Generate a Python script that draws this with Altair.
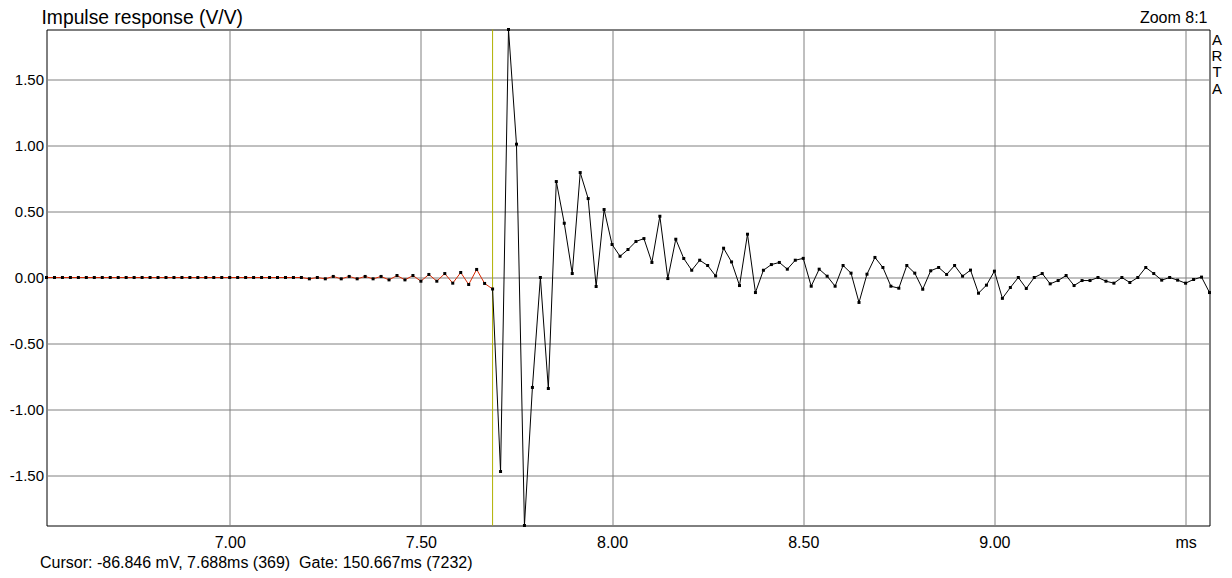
import altair as alt
import pandas as pd

# ---- data (48 kHz samples, value in V/V) ----
start_sample = 313
sample_rate_khz = 48.0
cursor_sample = 369

values_lead = [
    0.0, 0.0, 0.0, 0.0, 0.0, 0.0, 0.0, 0.0, 0.0, 0.0,
    0.0, 0.0, 0.0, 0.0, 0.0, 0.0, 0.0, 0.0, 0.0, 0.0,
    0.0, 0.0, 0.0, 0.0, 0.0, 0.0, 0.0, 0.0, 0.0, 0.0,
    0.0, 0.0, 0.0,
]
values_pre = [
    -0.010, 0.0, -0.010, 0.008, -0.010, 0.008, -0.010, 0.008, -0.010, 0.008,
    -0.018, 0.015, -0.018, 0.015, -0.028, 0.023, -0.028, 0.030, -0.043, 0.038,
    -0.053, 0.061, -0.045, -0.087,
]
values_main = [
    -1.470, 1.879, 1.010, -1.879, -0.833, 0.0, -0.841, 0.727, 0.411, 0.030,
    0.795, 0.598, -0.068, 0.515, 0.250, 0.161, 0.212, 0.273, 0.295, 0.114,
    0.464, -0.008, 0.290, 0.144, 0.055, 0.131, 0.091, 0.012, 0.222, 0.118,
    -0.061, 0.328, -0.114, 0.055, 0.098, 0.114, 0.063, 0.131, 0.145, -0.066,
    0.063, 0.010, -0.066, 0.091, 0.033, -0.189, 0.025, 0.152, 0.076, -0.066,
    -0.081, 0.091, 0.033, -0.089, 0.051, 0.076, 0.023, 0.091, 0.010, 0.056,
    -0.119, -0.058, 0.048, -0.158, -0.076, 0.0, -0.083, 0.0, 0.030, -0.048,
    -0.023, 0.015, -0.061, -0.023, -0.023, 0.0, -0.028, -0.043, 0.0, -0.038,
    0.0, 0.076, 0.030, -0.020, 0.0, -0.020, -0.043, -0.015, 0.003, -0.114,
]

x_tick_values = [7.0, 7.5, 8.0, 8.5, 9.0, 9.5]
y_tick_values = [-1.5, -1.0, -0.5, 0.0, 0.5, 1.0, 1.5]
y_limit = 1.879

title_text = "Impulse response (V/V)"
zoom_text = "Zoom 8:1"
brand_letters = ["A", "R", "T", "A"]
status_text = "Cursor: -86.846 mV, 7.688ms (369) \u00a0Gate: 150.667ms (7232)"

FONT = "Liberation Sans"

values = values_lead + values_pre + values_main
samples = list(range(start_sample, start_sample + len(values)))
df = pd.DataFrame({
    "sample": samples,
    "t": [s / sample_rate_khz for s in samples],
    "v": values,
})
end_sample = samples[-1]

x_scale = alt.Scale(domain=[start_sample / sample_rate_khz, end_sample / sample_rate_khz],
                    nice=False, zero=False)
y_scale = alt.Scale(domain=[-y_limit, y_limit], nice=False, zero=False)

x_axis = alt.Axis(
    values=x_tick_values,
    labelExpr="datum.value > 9.4 ? 'ms' : format(datum.value, '.2f')",
    ticks=False, domain=False, grid=True,
    gridColor="#808080", gridOpacity=1, gridWidth=1,
    labelFont=FONT, labelFontSize=16, labelColor="#000000",
    labelPadding=9, labelFlush=False, labelOverlap=False, title=None,
)
y_axis = alt.Axis(
    values=y_tick_values,
    labelExpr="(datum.value < 0 ? '-' : '') + format(abs(datum.value), '.2f')",
    ticks=False, domain=False, grid=True,
    gridColor="#808080", gridOpacity=1, gridWidth=1,
    labelFont=FONT, labelFontSize=15, labelColor="#000000",
    labelPadding=3, labelFlush=False, labelOverlap=False, title=None,
)

base = alt.Chart(df)

cursor_rule = alt.Chart(pd.DataFrame({"t": [cursor_sample / sample_rate_khz]})).mark_rule(
    color="#b0b000", strokeWidth=1
).encode(x=alt.X("t:Q", scale=x_scale, axis=x_axis))

line_pre = base.transform_filter(alt.datum.sample <= cursor_sample).mark_line(
    color="#d82800", strokeWidth=1
).encode(
    x=alt.X("t:Q", scale=x_scale, axis=x_axis),
    y=alt.Y("v:Q", scale=y_scale, axis=y_axis),
)
line_post = base.transform_filter(alt.datum.sample >= cursor_sample).mark_line(
    color="#000000", strokeWidth=1
).encode(
    x=alt.X("t:Q", scale=x_scale),
    y=alt.Y("v:Q", scale=y_scale),
)
points = base.mark_square(size=9, color="#000000", opacity=1, filled=True).encode(
    x=alt.X("t:Q", scale=x_scale),
    y=alt.Y("v:Q", scale=y_scale),
)

title_mark = alt.Chart(pd.DataFrame({"label": [title_text]})).mark_text(
    font=FONT, fontSize=19.3, align="left", baseline="alphabetic", color="#000000"
).encode(text="label:N", x=alt.value(-5), y=alt.value(-6))

zoom_mark = alt.Chart(pd.DataFrame({"label": [zoom_text]})).mark_text(
    font=FONT, fontSize=16, align="right", baseline="alphabetic", color="#000000"
).encode(text="label:N", x=alt.value(1161), y=alt.value(-7))

brand_mark = alt.Chart(pd.DataFrame({"label": [0]})).mark_text(
    font=FONT, fontSize=15, align="center", baseline="alphabetic", color="#000000",
    lineHeight=16.4
).encode(text=alt.value(brand_letters), x=alt.value(1170.5), y=alt.value(15))

status_mark = alt.Chart(pd.DataFrame({"label": [status_text]})).mark_text(
    font=FONT, fontSize=16, align="left", baseline="alphabetic", color="#000000"
).encode(text="label:N", x=alt.value(-6.5), y=alt.value(538))

chart = alt.layer(
    cursor_rule, line_pre, line_post, points,
    title_mark, zoom_mark, brand_mark, status_mark,
).properties(
    width=1163,
    height=496,
    padding={"left": 38.5, "top": 21.5, "right": 14.5, "bottom": 45},
    autosize=alt.AutoSizeParams(type="none"),
    background="#ffffff",
).configure_view(
    stroke="#000000", strokeWidth=1
)

chart.save("out.html", embed_options={"renderer": "svg", "actions": False})
